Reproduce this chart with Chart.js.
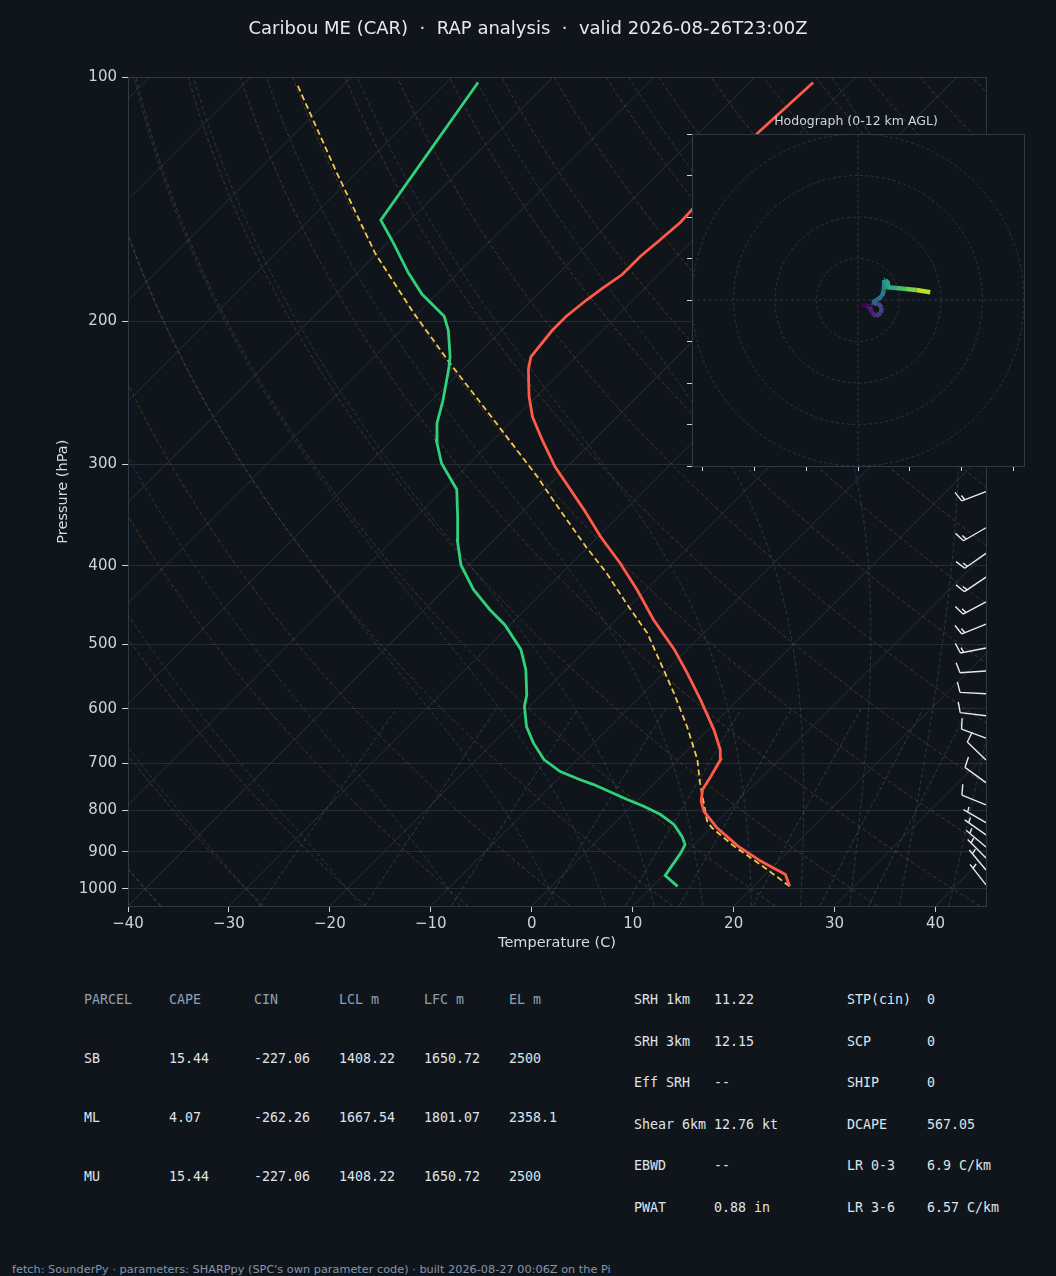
<!DOCTYPE html>
<html>
<head>
<meta charset="utf-8">
<script src="https://cdn.jsdelivr.net/npm/chart.js@4.4.1/dist/chart.umd.min.js"></script>
<style>
html,body{margin:0;padding:0;background:#10151c;width:1056px;height:1276px;overflow:hidden;}
#wrap{position:relative;width:1056px;height:1276px;}
#main{position:absolute;left:0;top:0;}
#hodo{position:absolute;left:678px;top:100px;}
.t{position:absolute;font-family:"DejaVu Sans Mono",monospace;font-size:13.3px;line-height:16px;color:#dfe4ea;white-space:pre;}
.hd{color:#8fa0b4;}
#foot{position:absolute;left:12px;top:1263px;font-family:"DejaVu Sans",sans-serif;font-size:11.3px;line-height:13px;color:#8596ab;white-space:pre;}
</style>
</head>
<body>
<div id="wrap">
<canvas id="main" width="1056" height="960" style="width:1056px;height:960px"></canvas>
<canvas id="hodo" width="360" height="380" style="width:360px;height:380px"></canvas>
<div id="tables"></div>
<div id="foot">fetch: SounderPy · parameters: SHARPpy (SPC's own parameter code) · built 2026-08-27 00:06Z on the Pi</div>
</div>
<script>
// ---------------- DATA ----------------
const chartTitle = 'Caribou ME (CAR)  \u00b7  RAP analysis  \u00b7  valid 2026-08-26T23:00Z';
const pressTicks = [100, 200, 300, 400, 500, 600, 700, 800, 900, 1000];

// Temperature profile (hPa, degC)
const tempP = [993, 960, 925, 886, 841, 803, 780, 755, 727, 693, 674, 637, 585, 542, 507, 466, 428, 397, 368, 341, 302, 280, 262, 247, 229, 221, 205, 197, 188, 182, 175, 166, 159, 151, 146, 130, 117, 101.5];
const tempC = [23.6, 22.0, 18.3, 14.5, 10.6, 7.7, 6.4, 5.4, 4.9, 4.2, 3.2, 0.6, -3.7, -7.7, -11.3, -16.3, -20.9, -25.2, -29.8, -34.1, -41.2, -45.1, -48.4, -50.8, -53.5, -54.5, -55.0, -55.0, -54.6, -54.2, -53.6, -53.6, -53.3, -53.0, -53.1, -53.8, -54.2, -53.7];

// Dewpoint profile (hPa, degC)
const dewP = [993, 963, 929, 903, 882, 862, 833, 810, 791, 776, 744, 734, 717, 693, 661, 631, 596, 577, 537, 507, 473, 453, 428, 399, 372, 348, 322, 299, 280, 267, 250, 229, 221, 205, 197, 185, 174, 160, 150, 101.5];
const dewC = [12.5, 10.2, 9.8, 9.5, 9.1, 8.0, 6.0, 3.7, 1.2, -1.1, -5.9, -7.7, -10.5, -13.3, -16.0, -18.3, -20.5, -21.4, -24.0, -26.5, -30.5, -33.5, -37.1, -40.8, -43.6, -45.9, -48.7, -52.8, -55.6, -57.2, -58.9, -61.4, -62.5, -65.3, -67.1, -71.5, -75.0, -79.4, -82.9, -86.9];

// Surface parcel trace (hPa, degC)
const parcelP = [993, 934, 886, 841, 826, 741, 693, 631, 574, 527, 484, 445, 408, 379, 341, 310, 264, 225, 195, 165, 131, 101.5];
const parcelC = [23.6, 18.6, 14.1, 10.1, 9.0, 4.5, 1.9, -2.4, -7.0, -11.3, -15.6, -20.6, -25.6, -30.2, -36.5, -42.1, -52.0, -61.9, -70.5, -80.1, -92.0, -104.9];

// Wind barbs
const barbP   = [324, 359, 386, 413, 443, 472, 505, 539, 575, 612, 652, 694, 740, 788, 829, 858, 888, 916, 948, 989];
const barbDir = [249, 240, 235, 236, 242, 248, 259, 266, 273, 277, 290, 314, 306, 292, 300, 305, 310, 315, 320, 322];
const barbKt  = [15, 15, 15, 15, 15, 15, 15, 10, 10, 10, 10, 10, 10, 10, 5, 5, 5, 5, 5, 5];

// Hodograph (kt) and height (km AGL)
const hodoU  = [1.0, 2.0, 2.8, 3.4, 4.4, 5.5, 5.7, 4.8, 3.8, 3.45, 4.0, 4.8, 5.8, 6.2, 6.3, 6.35, 6.6, 7.0, 7.2, 9.2, 11.6, 14.1, 17.4];
const hodoV  = [-1.2, -1.4, -1.6, -3.1, -3.9, -3.1, -1.8, -0.8, -0.9, -0.6, -0.3, 0.16, 0.96, 2.25, 3.6, 4.8, 4.9, 4.2, 3.05, 2.9, 2.65, 2.4, 1.85];
const hodoKm = [0, 0.5, 1.0, 1.4, 1.9, 2.4, 2.8, 3.1, 3.5, 3.7, 4.0, 4.3, 4.8, 5.3, 5.8, 6.2, 6.6, 7.0, 7.4, 8.4, 9.6, 10.8, 12.0];

// Parameter tables
const parcelHeader = ['PARCEL', 'CAPE', 'CIN', 'LCL m', 'LFC m', 'EL m'];
const parcelRows = [
  ['SB', '15.44', '-227.06', '1408.22', '1650.72', '2500'],
  ['ML', '4.07', '-262.26', '1667.54', '1801.07', '2358.1'],
  ['MU', '15.44', '-227.06', '1408.22', '1650.72', '2500']
];
const paramLabelsA = ['SRH 1km', 'SRH 3km', 'Eff SRH', 'Shear 6km', 'EBWD', 'PWAT'];
const paramValuesA = ['11.22', '12.15', '--', '12.76 kt', '--', '0.88 in'];
const paramLabelsB = ['STP(cin)', 'SCP', 'SHIP', 'DCAPE', 'LR 0-3', 'LR 3-6'];
const paramValuesB = ['0', '0', '0', '567.05', '6.9 C/km', '6.57 C/km'];

// ---------------- STYLE / HELPERS ----------------
const SKEW = Math.tan(45 * Math.PI / 180);
const FONT = 'DejaVu Sans';
const BG = '#10151c';
const FRAME = '#2e3946';
const TICKCOL = '#cdd4dc';

const Rd = 287.04749, Cp = 1004.6662, Lv = 2.50084e6, EPS = 0.622, KAPPA = Rd / Cp;
function satVap(Tk) { const c = Tk - 273.15; return 6.112 * Math.exp(17.67 * c / (c + 243.5)); }
function moistSlope(p, T) {
  const e = satVap(T); const rs = EPS * e / (p - e);
  return (Rd * T + Lv * rs) / (Cp + Lv * Lv * rs * EPS / (Rd * T * T));
}
function rk4(T, lp, h) {
  const f = (l, t) => moistSlope(Math.exp(l), t);
  const k1 = f(lp, T), k2 = f(lp + h / 2, T + h / 2 * k1), k3 = f(lp + h / 2, T + h / 2 * k2), k4 = f(lp + h, T + h * k3);
  return T + h / 6 * (k1 + 2 * k2 + 2 * k3 + k4);
}
function moistLine(t0) {
  const pts = [];
  let T = t0 + 273.15; let lp = Math.log(1000);
  const hUp = (Math.log(100) - Math.log(1000)) / 120;
  const down = [];
  let Td = T, lpd = lp; const hDn = (Math.log(1050) - lp) / 6;
  for (let i = 0; i < 6; i++) { if (satVap(Td) > 0.5 * Math.exp(lpd)) break; Td = rk4(Td, lpd, hDn); lpd += hDn; down.push([Math.exp(lpd), Td - 273.15]); }
  down.reverse().forEach(d => pts.push(d));
  pts.push([1000, t0]);
  for (let i = 0; i < 120; i++) {
    if (satVap(T) > 0.5 * Math.exp(lp)) return pts;
    T = rk4(T, lp, hUp); lp += hUp; pts.push([Math.exp(lp), T - 273.15]);
  }
  return pts;
}

function skewXY(chart, T, p) {
  const xs = chart.scales.x, ys = chart.scales.y;
  const yy = ys.getPixelForValue(p);
  return [xs.getPixelForValue(T) + (chart.chartArea.bottom - yy) * SKEW, yy];
}

const skewPlugin = {
  id: 'skew',
  afterDatasetsUpdate(chart) {
    const b = chart.chartArea.bottom;
    chart.data.datasets.forEach((ds, i) => {
      chart.getDatasetMeta(i).data.forEach(pt => { pt.x = pt.x + (b - pt.y) * SKEW; });
    });
  }
};

const guidePlugin = {
  id: 'guides',
  beforeDatasetsDraw(chart) {
    const { ctx, chartArea: a } = chart;
    ctx.save();
    ctx.beginPath(); ctx.rect(a.left, a.top, a.right - a.left, a.bottom - a.top); ctx.clip();
    const pList = []; for (let i = 0; i <= 100; i++) pList.push(1050 * Math.pow(100 / 1050, i / 100));
    const stroke = (pts) => { ctx.beginPath(); pts.forEach((q, i) => { const [x, y] = skewXY(chart, q[1], q[0]); i ? ctx.lineTo(x, y) : ctx.moveTo(x, y); }); ctx.stroke(); };
    // isotherms
    ctx.lineWidth = 1; ctx.setLineDash([]); ctx.strokeStyle = '#27303b';
    for (let T = -120; T <= 40; T += 10) stroke([[1050, T], [100, T]]);
    // dry adiabats
    ctx.setLineDash([4, 2.5]); ctx.strokeStyle = 'rgba(168,120,60,0.34)';
    for (let t0 = -40; t0 <= 245; t0 += 10) {
      const th = t0 + 273.15; stroke(pList.map(p => [p, th * Math.pow(p / 1000, KAPPA) - 273.15]));
    }
    // moist adiabats
    ctx.strokeStyle = 'rgba(70,120,150,0.36)';
    const mt = [-40, -30, -20, -10]; for (let t = 0; t <= 95; t += 5) mt.push(t);
    mt.forEach(t0 => stroke(moistLine(t0)));
    // mixing ratio lines
    ctx.strokeStyle = 'rgba(70,140,140,0.38)';
    [0.0004, 0.001, 0.002, 0.004, 0.007, 0.01, 0.016, 0.024, 0.032].forEach(w => {
      const pts = []; for (let i = 0; i <= 20; i++) {
        const p = 1050 - i * (1050 - 600) / 20; const e = p * w / (EPS + w); const l = Math.log(e / 6.112);
        pts.push([p, 243.5 * l / (17.67 - l)]);
      }
      stroke(pts);
    });
    ctx.restore();
  }
};

const barbPlugin = {
  id: 'barbs',
  afterDatasetsDraw(chart) {
    const { ctx, chartArea: a, scales: { y } } = chart;
    const L = 26, fh = 0.4 * L, fw = 0.25 * L, sp = 0.125 * L;
    ctx.save(); ctx.strokeStyle = '#e7eaee'; ctx.lineWidth = 1.4; ctx.setLineDash([]); ctx.lineCap = 'butt';
    barbP.forEach((p, i) => {
      const x0 = a.right, y0 = y.getPixelForValue(p);
      const d = barbDir[i] * Math.PI / 180; const sx = Math.sin(d), sy = -Math.cos(d);
      const P = (dd, h) => [x0 + sx * dd - sy * h, y0 + sy * dd + sx * h];
      let spd = Math.round(barbKt[i] / 5) * 5;
      const nfull = Math.floor(spd / 10); const half = (spd - nfull * 10) >= 5;
      ctx.beginPath(); ctx.moveTo(x0, y0); ctx.lineTo(...P(L, 0));
      let off = L;
      for (let k = 0; k < nfull; k++) { ctx.moveTo(...P(off, 0)); ctx.lineTo(...P(off + fw / 2, fh)); off -= sp; }
      if (half) { if (off === L) off -= 1.5 * sp; ctx.moveTo(...P(off, 0)); ctx.lineTo(...P(off + fw / 4, fh / 2)); }
      ctx.stroke();
    });
    ctx.restore();
  }
};

const framePlugin = {
  id: 'frame',
  afterDraw(chart) {
    const { ctx, chartArea: a } = chart;
    ctx.save(); ctx.strokeStyle = FRAME; ctx.lineWidth = 1; ctx.setLineDash([]);
    ctx.strokeRect(Math.round(a.left) + 0.5, Math.round(a.top) + 0.5, Math.round(a.right - a.left), Math.round(a.bottom - a.top));
    ctx.restore();
  }
};

const minus = v => String(v).replace('-', '\u2212');

new Chart(document.getElementById('main'), {
  type: 'line',
  data: {
    datasets: [
      { label: 'Temperature', data: tempP.map((p, i) => ({ x: tempC[i], y: p })), borderColor: '#ff5a48', borderWidth: 2.8, pointRadius: 0, tension: 0 },
      { label: 'Dewpoint', data: dewP.map((p, i) => ({ x: dewC[i], y: p })), borderColor: '#2fd27a', borderWidth: 2.8, pointRadius: 0, tension: 0 },
      { label: 'Parcel', data: parcelP.map((p, i) => ({ x: parcelC[i], y: p })), borderColor: '#f7c64a', borderWidth: 1.8, borderDash: [6, 3.5], pointRadius: 0, tension: 0 }
    ]
  },
  options: {
    responsive: false, animation: false, devicePixelRatio: 1,
    layout: { padding: { left: 70, right: 70, top: 0, bottom: 0 } },
    plugins: {
      legend: { display: false }, tooltip: { enabled: false },
      title: { display: true, text: chartTitle, color: '#e6eaef', font: { family: FONT, size: 18, weight: 'normal' }, padding: { top: 18.2, bottom: 37.5 } }
    },
    scales: {
      x: {
        type: 'linear', min: -40, max: 45,
        ticks: { stepSize: 10, includeBounds: false, autoSkip: false, maxRotation: 0, color: TICKCOL, font: { family: FONT, size: 15 }, padding: 3, callback: v => minus(v) },
        grid: { drawOnChartArea: false, drawTicks: true, tickLength: 6, tickColor: TICKCOL },
        border: { display: true, color: FRAME },
        title: { display: true, text: 'Temperature (C)', color: '#d5dbe2', font: { family: FONT, size: 14.5 }, padding: { top: 0, bottom: 8.3 } },
        afterFit: s => { s.height = 54; }
      },
      y: {
        type: 'logarithmic', reverse: true, min: 100, max: 1050,
        afterBuildTicks: s => { s.ticks = pressTicks.map(v => ({ value: v })); },
        ticks: { autoSkip: false, color: TICKCOL, font: { family: FONT, size: 15 }, padding: 5, callback: v => String(v) },
        grid: { color: '#252d37', lineWidth: 1, drawTicks: true, tickLength: 6, tickColor: TICKCOL },
        border: { display: true, color: FRAME },
        title: { display: true, text: 'Pressure (hPa)', color: '#d5dbe2', font: { family: FONT, size: 14.5 }, padding: { top: -15.2, bottom: 0 } },
        afterFit: s => { s.width = 58; }
      }
    }
  },
  plugins: [skewPlugin, guidePlugin, barbPlugin, framePlugin]
});

// ---------------- HODOGRAPH ----------------
const VIR = ['#440154', '#482475', '#414487', '#355f8d', '#2a788e', '#21918c', '#22a884', '#44bf70', '#7ad151', '#bddf26', '#fde725'];
function hex(c) { return [parseInt(c.slice(1, 3), 16), parseInt(c.slice(3, 5), 16), parseInt(c.slice(5, 7), 16)]; }
function viridis(f) {
  f = Math.max(0, Math.min(1, f)); const s = f * 10; const i = Math.min(9, Math.floor(s)); const t = s - i;
  const a = hex(VIR[i]), b = hex(VIR[i + 1]);
  return 'rgb(' + a.map((v, k) => Math.round(v + (b[k] - v) * t)).join(',') + ')';
}
const hodoPlugin = {
  id: 'hodoBg',
  beforeDraw(chart) {
    const { ctx, chartArea: a } = chart;
    ctx.save(); ctx.fillStyle = BG; ctx.fillRect(a.left, a.top, a.right - a.left, a.bottom - a.top); ctx.restore();
  },
  beforeDatasetsDraw(chart) {
    const { ctx, chartArea: a, scales: { x, y } } = chart;
    ctx.save();
    ctx.beginPath(); ctx.rect(a.left, a.top, a.right - a.left, a.bottom - a.top); ctx.clip();
    ctx.strokeStyle = '#2b3542'; ctx.lineWidth = 1; ctx.setLineDash([3, 2.5]);
    const cx = x.getPixelForValue(0), cy = y.getPixelForValue(0);
    [10, 20, 30, 40].forEach(r => { const rp = x.getPixelForValue(r) - cx; ctx.beginPath(); ctx.arc(cx, cy, rp, 0, Math.PI * 2); ctx.stroke(); });
    ctx.beginPath(); ctx.moveTo(a.left, cy); ctx.lineTo(a.right, cy); ctx.moveTo(cx, a.top); ctx.lineTo(cx, a.bottom); ctx.stroke();
    ctx.restore();
  },
  afterDraw(chart) {
    const { ctx, chartArea: a } = chart;
    ctx.save(); ctx.strokeStyle = FRAME; ctx.lineWidth = 1;
    ctx.strokeRect(Math.round(a.left) + 0.5, Math.round(a.top) + 0.5, Math.round(a.right - a.left), Math.round(a.bottom - a.top));
    ctx.restore();
  }
};
new Chart(document.getElementById('hodo'), {
  type: 'line',
  data: {
    datasets: [{
      data: hodoU.map((u, i) => ({ x: u, y: hodoV[i] })), borderWidth: 4.5, pointRadius: 0, tension: 0,
      borderColor: '#21918c', borderJoinStyle: 'round',
      segment: { borderColor: c => viridis(hodoKm[c.p0DataIndex] / 12) }
    }]
  },
  options: {
    responsive: false, animation: false, devicePixelRatio: 1,
    layout: { padding: { left: 10, right: 14, top: 0, bottom: 0 } },
    plugins: {
      legend: { display: false }, tooltip: { enabled: false },
      title: { display: true, text: 'Hodograph (0-12 km AGL)', color: '#cfd6de', font: { family: FONT, size: 12.5, weight: 'normal' }, padding: { top: 14.5, bottom: 4.5 } }
    },
    scales: {
      x: {
        type: 'linear', min: -40, max: 40,
        ticks: { stepSize: 12.5, includeBounds: false, autoSkip: false, color: 'rgba(0,0,0,0)', font: { size: 8 } },
        grid: { drawOnChartArea: false, drawTicks: true, tickLength: 5, tickColor: TICKCOL },
        border: { display: true, color: FRAME },
        afterFit: s => { s.height = 14; }
      },
      y: {
        type: 'linear', min: -40, max: 40,
        ticks: { stepSize: 10, autoSkip: false, color: 'rgba(0,0,0,0)', font: { size: 8 } },
        grid: { drawOnChartArea: false, drawTicks: true, tickLength: 5, tickColor: TICKCOL },
        border: { display: true, color: FRAME },
        afterFit: s => { s.width = 4; }
      }
    }
  },
  plugins: [hodoPlugin]
});

// ---------------- TABLES ----------------
const tbl = document.getElementById('tables');
function put(txt, x, yc, cls) {
  const d = document.createElement('div'); d.className = 't' + (cls ? ' ' + cls : '');
  d.textContent = txt; d.style.left = x + 'px'; d.style.top = (yc - 7) + 'px'; tbl.appendChild(d);
}
const colX = [84, 169, 254, 339, 424, 509];
const rowY = [999, 1058, 1117, 1176];
parcelHeader.forEach((h, j) => put(h, colX[j], rowY[0], 'hd'));
parcelRows.forEach((r, i) => r.forEach((v, j) => put(v, colX[j], rowY[i + 1])));
const pRowY = [999, 1041, 1082, 1124, 1165, 1207];
paramLabelsA.forEach((l, i) => { put(l, 634, pRowY[i]); put(paramValuesA[i], 714, pRowY[i]); });
paramLabelsB.forEach((l, i) => { put(l, 847, pRowY[i]); put(paramValuesB[i], 927, pRowY[i]); });
</script>
</body>
</html>
